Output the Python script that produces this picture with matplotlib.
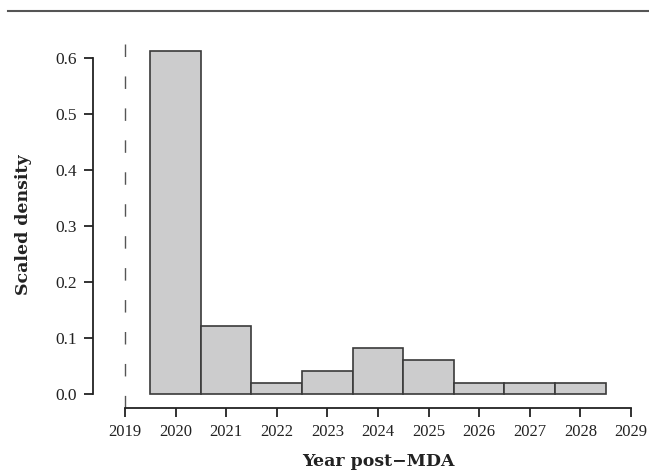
import numpy as np
import matplotlib
matplotlib.use("Agg")
from matplotlib import pyplot as plt
from matplotlib.lines import Line2D

# histogram bins (year) and scaled density
years = [2020, 2021, 2022, 2023, 2024, 2025, 2026, 2027, 2028]
density = [0.613, 0.122, 0.020, 0.041, 0.082, 0.061, 0.020, 0.020, 0.020]
xticks = list(range(2019, 2030))
yticks = [0.0, 0.1, 0.2, 0.3, 0.4, 0.5, 0.6]
mda_year = 2019

plt.rcParams['font.family'] = ['Liberation Serif', 'DejaVu Serif']
ink = '#222222'

fig = plt.figure(figsize=(6.49, 4.75), dpi=100)
W, H = 649, 475
l, r, b, t = 93.3, 649, 408, 37
pxx, pxy = 50.6, 560.0   # pixels per year, per density unit
ax = fig.add_axes([l/W, 1-b/H, (r-l)/W, (b-t)/H])

ax.bar(years, density, width=1.0, color='#cccccd', edgecolor='#3a3a3a', linewidth=1.2)

x0 = mda_year - (125 - l)/pxx
ax.set_xlim(x0, x0 + (r-l)/pxx)
y0 = -(b - 394)/pxy
ax.set_ylim(y0, y0 + (b-t)/pxy)

# dashed reference line at MDA
top = (394 - 43.5)/pxy
ax.plot([mda_year, mda_year], [top, y0], color='#555555', linewidth=1.0,
        dashes=(9.0, 14.0), clip_on=False)

for s in ['top', 'right']:
    ax.spines[s].set_visible(False)
for s in ['left', 'bottom']:
    ax.spines[s].set_color(ink)
    ax.spines[s].set_linewidth(1.3)
ax.spines['left'].set_bounds(0, 0.6)
ax.spines['bottom'].set_bounds(2019, 2029)

ax.set_xticks(xticks)
ax.set_yticks(yticks)
ax.set_yticklabels(['%.1f' % v for v in yticks])
ax.tick_params(direction='out', length=6.5, width=1.3, color=ink, labelcolor=ink,
               labelsize=12)
ax.tick_params(axis='x', pad=5.3)
ax.tick_params(axis='y', pad=5, labelsize=12.5)

fig.text(378/W, 1-465.7/H, 'Year post\u2212MDA', ha='center', va='baseline',
         fontsize=12.5, fontweight='bold', color=ink, family='DejaVu Serif')
fig.text(24/W, 1-225/H, 'Scaled density', ha='center', va='center', rotation=90,
         fontsize=12.5, fontweight='bold', color=ink, family='DejaVu Serif')

fig.add_artist(Line2D([8/W, 1], [1-11/H, 1-11/H], color='#555555', linewidth=1.5))

plt.savefig("out.png", dpi=100)
